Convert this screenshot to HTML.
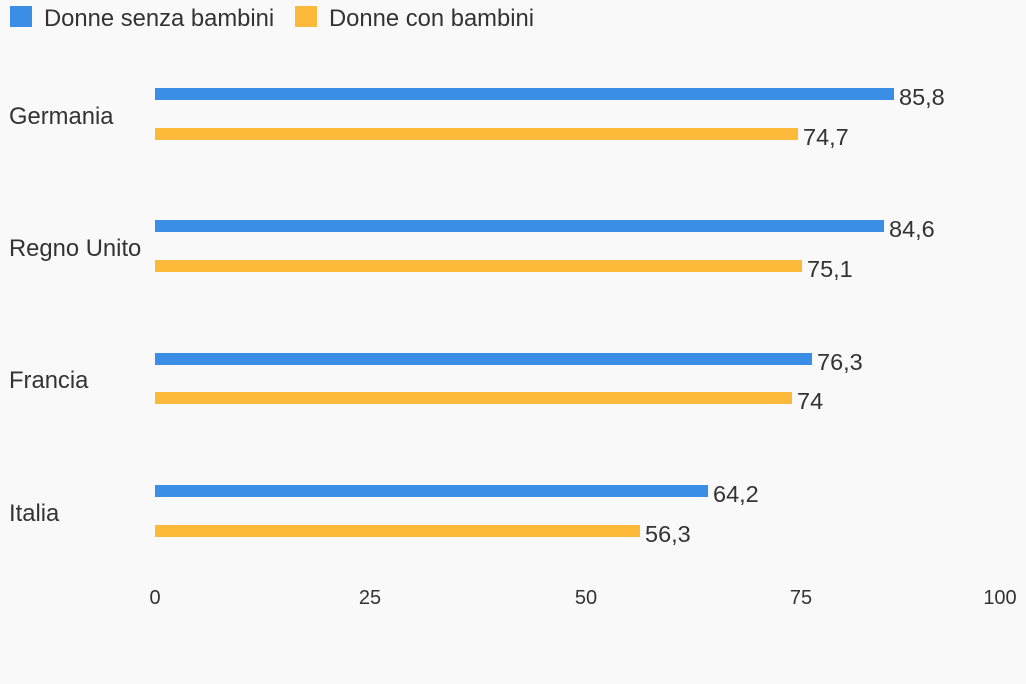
<!DOCTYPE html>
<html><head><meta charset="utf-8"><style>
body{margin:0;background:#f9f9f9;}
svg{display:block;font-family:"Liberation Sans",sans-serif;}
</style></head><body>
<svg width="1026" height="684" viewBox="0 0 1026 684">
<rect width="1026" height="684" fill="#f9f9f9"/>
<rect x="10" y="6" width="22" height="21" fill="#3a8ee6"/>
<text x="44" y="26" font-size="23.8" fill="#333">Donne senza bambini</text>
<rect x="295" y="6" width="22" height="21" fill="#fdb93a"/>
<text x="329" y="26" font-size="23.8" fill="#333">Donne con bambini</text>
<g font-size="23.8" fill="#333">
<text x="9" y="124">Germania</text>
<text x="9" y="256">Regno Unito</text>
<text x="9" y="388">Francia</text>
<text x="9" y="521">Italia</text>
</g>
<g>
<rect x="155" y="88" width="739" height="12" fill="#3a8ee6"/>
<rect x="155" y="128" width="643" height="12" fill="#fdb93a"/>
<rect x="155" y="220" width="729" height="12" fill="#3a8ee6"/>
<rect x="155" y="260" width="647" height="12" fill="#fdb93a"/>
<rect x="155" y="353" width="657" height="12" fill="#3a8ee6"/>
<rect x="155" y="392" width="637" height="12" fill="#fdb93a"/>
<rect x="155" y="485" width="553" height="12" fill="#3a8ee6"/>
<rect x="155" y="525" width="485" height="12" fill="#fdb93a"/>
</g>
<g font-size="23.5" fill="#333">
<text x="899" y="105">85,8</text>
<text x="803" y="145">74,7</text>
<text x="889" y="237">84,6</text>
<text x="807" y="277">75,1</text>
<text x="817" y="370">76,3</text>
<text x="797" y="409">74</text>
<text x="713" y="502">64,2</text>
<text x="645" y="542">56,3</text>
</g>
<g font-size="20" fill="#333" text-anchor="middle">
<text x="155" y="604">0</text>
<text x="370" y="604">25</text>
<text x="586" y="604">50</text>
<text x="801" y="604">75</text>
<text x="1000" y="604">100</text>
</g>
</svg>
</body></html>
